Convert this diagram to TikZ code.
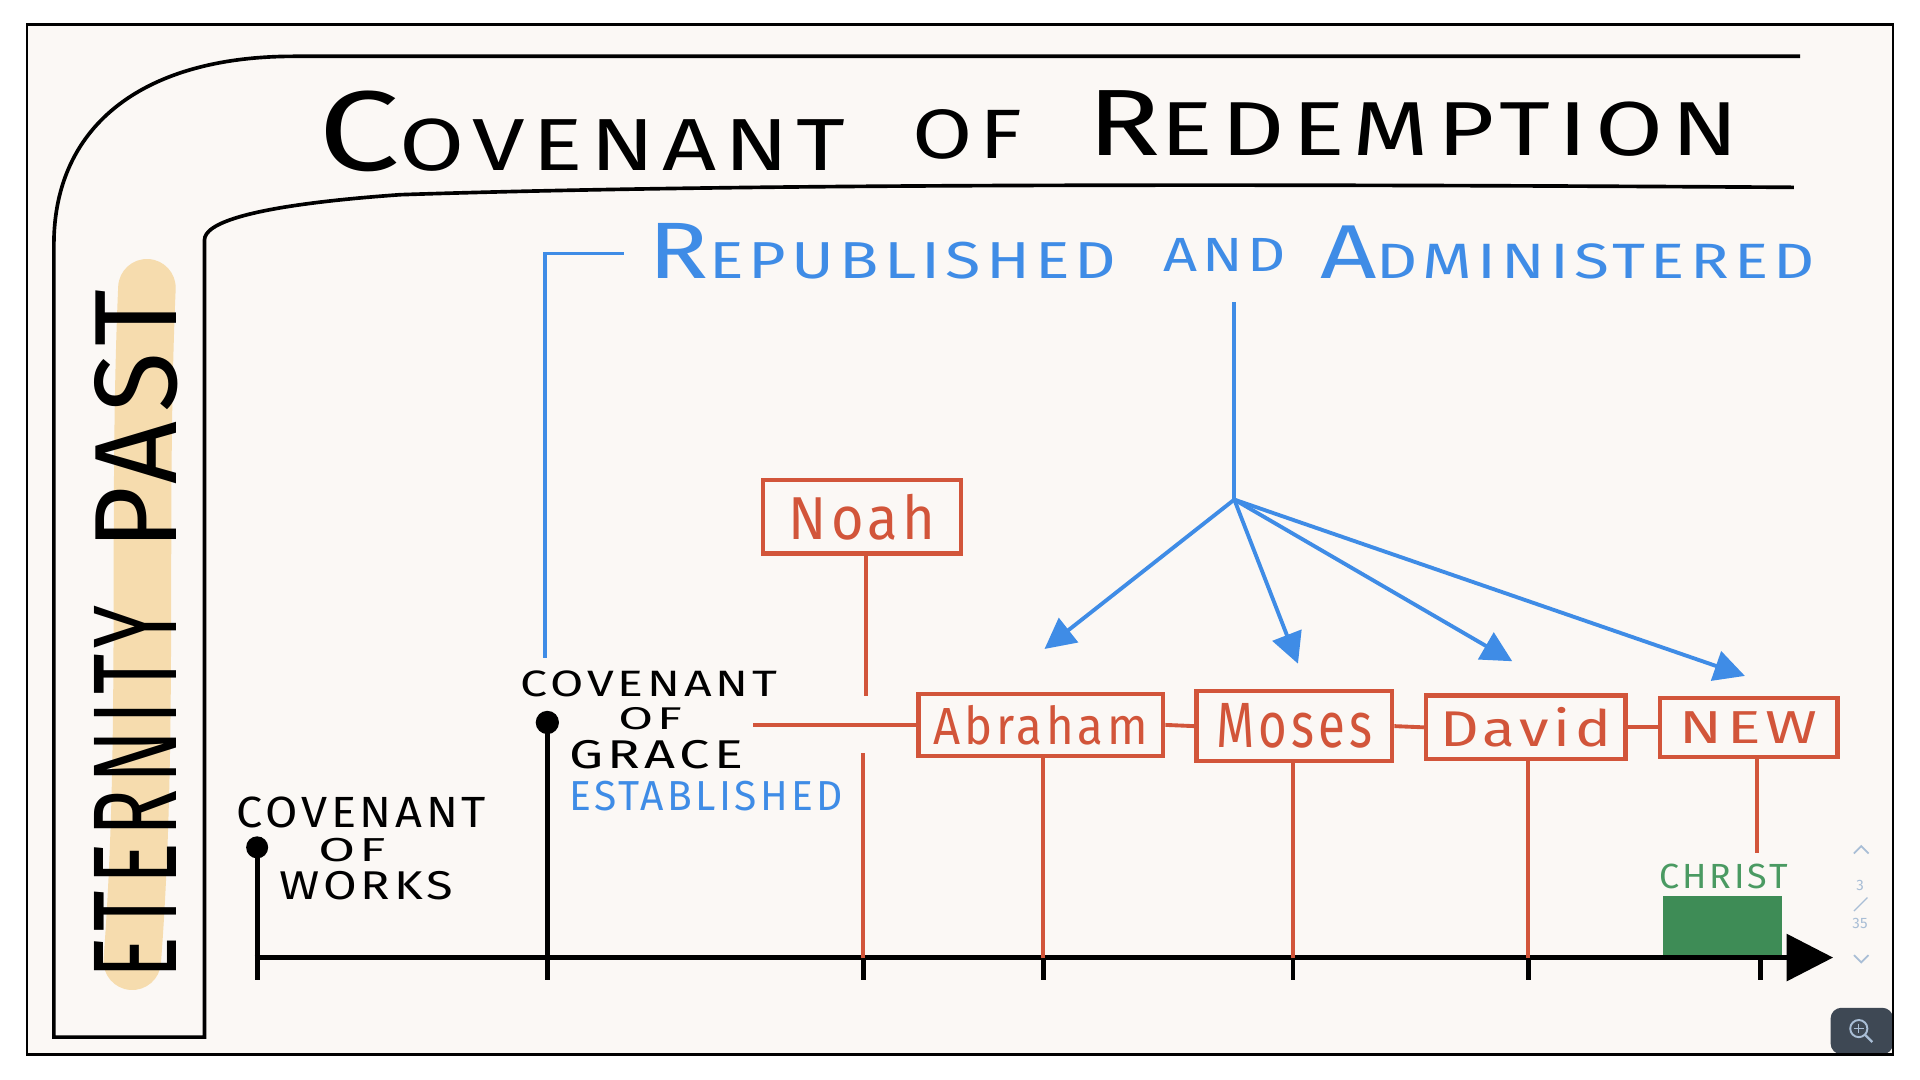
\documentclass[tikz,border=0pt]{standalone}
\usepackage{fontspec}
\setmainfont{Fira Sans}
\newfontfamily\hand[LetterSpace=8]{Fira Sans}
\usepackage{graphicx}
\usetikzlibrary{arrows.meta}
\definecolor{redd}{HTML}{D2553A}
\definecolor{bluu}{HTML}{3F8CE6}
\definecolor{hilite}{HTML}{F6DCAE}
\definecolor{grn}{HTML}{3E8C56}
\definecolor{grntxt}{HTML}{4A9A62}
\definecolor{paper}{HTML}{FBF8F5}
\definecolor{uig}{HTML}{A9BED6}
\definecolor{uibox}{HTML}{3E4854}
\newcommand\Bg[1]{{\fontsize{20}{20}\selectfont #1}}
\newcommand\Md[1]{{\fontsize{16}{16}\selectfont #1}}
\newcommand\Sm[1]{{\fontsize{13}{13}\selectfont #1}}
\newcommand\fitt[3]{\resizebox{#1}{#2}{#3}}
\tikzset{
  txt/.style={inner sep=0pt, outer sep=0pt, anchor=south west},
  rbox/.style={draw=redd, line width=2pt, inner sep=0pt, text=redd},
  rline/.style={draw=redd, line width=1.8pt},
  bline/.style={draw=bluu, line width=1.8pt},
  barrow/.style={bline, -{Triangle[length=5mm,width=5mm]}},
  kline/.style={draw=black, line width=2.2pt},
  lline/.style={draw=black, line width=1.7pt},
  dotnode/.style={circle, fill=black, inner sep=0pt},
}
\begin{document}
\begin{tikzpicture}[x=0.02cm, y=-0.02cm]
\useasboundingbox (0,0) rectangle (1568,882);
\fill[white] (0,0) rectangle (1568,882);
\fill[paper] (22,20) rectangle (1546,861);
\draw[black, line width=1.3pt] (22,20) rectangle (1546,861);

% big L frame
\draw[lline] (1470,46) -- (240,46) .. controls (120,46) and (44,100) .. (44,200)
  -- (44,847) -- (167,847) -- (167,196) .. controls (167,183) and (200,168) .. (327,159)
  .. controls (600,150) and (1000,150) .. (1465,153);

% title
\node[txt] (t1) at (260,140) {\fitt{86mm}{13mm}{\hand\Bg{C}\Sm{OVENANT}}};
\node[txt] (t2) at (745,130) {\fitt{18mm}{8mm}{\hand\Sm{OF}}};
\node[txt] (t3) at (888,128) {\fitt{106.4mm}{10.6mm}{\hand\Md{R}\Sm{EDEMPTION}}};

% eternity past
\draw[hilite, line width=9.4mm, line cap=round] (120,235) .. controls (112,420) and (122,600) .. (108,785);
\node[rotate=90, inner sep=0pt] (ep1) at (111,647) {\fitt{61mm}{13.4mm}{\hand ETERNITY}};
\node[rotate=90, inner sep=0pt] (ep2) at (111,343) {\fitt{42.6mm}{13.4mm}{\hand PAST}};

% blue heading
\node[txt, text=bluu] (b1) at (530,228) {\fitt{76.4mm}{9mm}{\hand\Bg{R}\Sm{EPUBLISHED}}};
\node[txt, text=bluu] (b2) at (950,222) {\fitt{20mm}{5.4mm}{\hand\Sm{AND}}};
\node[txt, text=bluu] (b3) at (1078,228) {\fitt{80.8mm}{8.6mm}{\hand\Bg{A}\Sm{DMINISTERED}}};

\coordinate (brB) at (445,537);
\coordinate (brC) at (445,207);
\coordinate (brE) at (510,207);
\draw[bline] (brB) -- (brC) -- (brE);

% boxes
\node[rbox, minimum width=32.4mm, minimum height=12mm] (noah) at (704,422) {\fitt{24mm}{7.4mm}{\hand Noah}};
\node[rbox, minimum width=40mm, minimum height=10.2mm] (abr) at (850,592) {\fitt{35mm}{6.4mm}{\hand Abraham}};
\node[rbox, minimum width=32mm, minimum height=11.4mm] (mos) at (1057,593) {\fitt{25.4mm}{7.2mm}{\hand Moses}};
\node[rbox, minimum width=32.6mm, minimum height=10.4mm] (dav) at (1246,594) {\fitt{28mm}{6.4mm}{\hand David}};
\node[rbox, minimum width=29mm, minimum height=9.6mm] (new) at (1428,594) {\fitt{22.6mm}{5.2mm}{\hand NEW}};

% blue fan
\coordinate (btop) at (1008,247);
\coordinate (hub) at (1008,408);
\coordinate (tipA) at (853,530);
\coordinate (tipM) at (1060,542);
\coordinate (tipD) at (1235,540);
\coordinate (tipN) at (1425,552);
\draw[bline] (btop) -- (hub);
\draw[barrow] (hub) -- (tipA);
\draw[barrow] (hub) -- (tipM);
\draw[barrow] (hub) -- (tipD);
\draw[barrow] (hub) -- (tipN);

% timeline
\coordinate (t0) at (208,782);
\coordinate (tend) at (1497,782);
\draw[kline, -{Triangle[length=7.6mm,width=7.6mm]}] (t0) -- (tend);

% red connectors
\coordinate (gl) at (615,592);
\draw[rline] (gl) -- (abr.west);
\draw[rline] (abr.east) -- (mos.west);
\draw[rline] (mos.east) -- (dav.west);
\draw[rline] (dav.east) -- (new.west);
\coordinate (nA) at (707,568);
\coordinate (nB) at (705,615);
\coordinate (nC) at (705,782);
\draw[rline] (noah.south -| nA) -- (nA);
\draw[rline] (nB) -- (nC);
\coordinate (aC) at (852,782);
\coordinate (mC) at (1056,782);
\coordinate (dC) at (1248,782);
\coordinate (nwC) at (1435,697);
\draw[rline] (abr.south -| aC) -- (aC);
\draw[rline] (mos.south -| mC) -- (mC);
\draw[rline] (dav.south -| dC) -- (dC);
\draw[rline] (new.south -| nwC) -- (nwC);

% ticks
\foreach \xx/\nm in {705/k1,852/k2,1056/k3,1248/k4,1438/k5}{
  \coordinate (\nm a) at (\xx,782);
  \coordinate (\nm b) at (\xx,800);
  \draw[kline] (\nm a) -- (\nm b);
}
\node[dotnode, minimum size=3.6mm] (cow) at (210,692) {};
\node[dotnode, minimum size=3.8mm] (cog) at (447,590) {};
\coordinate (cowb) at (210,800);
\coordinate (cogb) at (447,800);
\draw[kline] (cow.center) -- (cowb);
\draw[kline] (cog.center) -- (cogb);

% covenant of works
\node[txt] (w1) at (193,676) {\fitt{40.8mm}{5mm}{\hand COVENANT}};
\node[txt] (w2) at (260,704) {\fitt{11mm}{3.8mm}{\hand OF}};
\node[txt] (w3) at (228,735) {\fitt{28.4mm}{4.6mm}{\hand WORKS}};
% covenant of grace
\node[txt] (g1) at (425,569) {\fitt{42mm}{4.2mm}{\hand COVENANT}};
\node[txt] (g2) at (505,596) {\fitt{10.4mm}{3.6mm}{\hand OF}};
\node[txt] (g3) at (465,628) {\fitt{28.4mm}{4.6mm}{\hand GRACE}};
\node[txt, text=bluu] (g4) at (465,662) {\fitt{44.6mm}{4.8mm}{\hand ESTABLISHED}};

% christ
\node[txt, text=grntxt] (chr) at (1355,726) {\fitt{21mm}{4mm}{\hand CHRIST}};
\fill[grn] (1358,732) rectangle (1455,780);

% UI
\draw[uig, line width=0.8pt] (1514,697) -- (1520,691) -- (1526,697);
\node[text=uig, inner sep=0pt, font=\fontsize{7}{7}\selectfont] (pg1) at (1519,723) {3};
\draw[uig, line width=0.6pt] (1514,744) -- (1525,733);
\node[text=uig, inner sep=0pt, font=\fontsize{7}{7}\selectfont] (pg2) at (1519,754) {35};
\draw[uig, line width=0.8pt] (1514,780) -- (1520,786) -- (1526,780);
\fill[uibox, rounded corners=5pt] (1495,823) rectangle (1546,861);
\draw[uig, line width=0.9pt] (1518,840) circle (7);
\draw[uig, line width=1.1pt] (1523,845) -- (1529,851);
\draw[uig, line width=0.6pt] (1514,840) -- (1522,840) (1518,836) -- (1518,844);
\draw[black, line width=1.3pt] (22,20) rectangle (1546,861);
\end{tikzpicture}
\end{document}
